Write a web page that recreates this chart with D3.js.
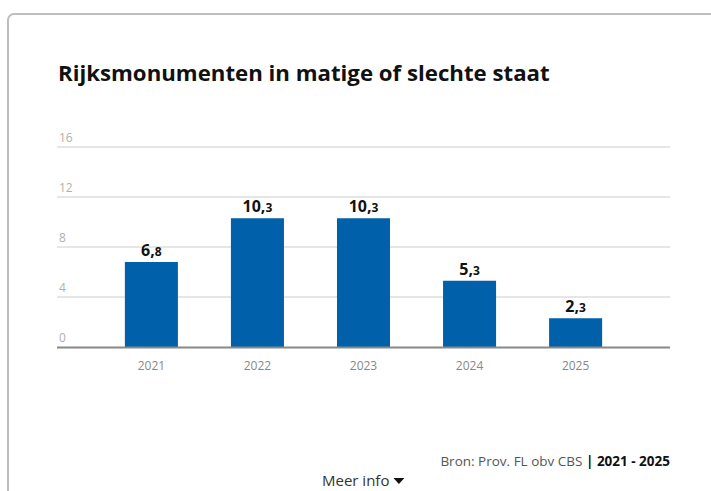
<!DOCTYPE html>
<html>
<head>
<meta charset="utf-8">
<script src="https://cdn.jsdelivr.net/npm/d3@7"></script>
<style>
  body { margin: 0; background: #fff; }
  svg { display: block; font-family: "Open Sans", "Noto Sans", sans-serif; }
</style>
</head>
<body>
<svg id="chart" width="711" height="491"></svg>
<script>
const years = ['2021', '2022', '2023', '2024', '2025']
const values = [6.8, 10.3, 10.3, 5.3, 2.3]
const yTicks = [0, 4, 8, 12, 16]

const titleText = 'Rijksmonumenten in matige of slechte staat'
const sourceText = 'Bron: Prov. FL obv CBS'
const periodText = '2021 - 2025'

const plot = { left: 57, right: 670, top: 147, bottom: 347 }

const svg = d3.select('#chart')

// card border
svg.append('rect')
    .attr('x', 8).attr('y', 14)
    .attr('width', 740).attr('height', 520)
    .attr('rx', 6)
    .attr('fill', '#fff')
    .attr('stroke', '#bdbdbd')
    .attr('stroke-width', 2)

// title, scaled to the width seen in the picture
const title = svg.append('text')
    .attr('x', 58).attr('y', 81)
    .attr('font-size', 20)
    .attr('font-weight', 700)
    .attr('fill', '#111')
    .text(titleText)
let tw = title.node().getComputedTextLength()
title.attr('font-size', 20 * 492 / tw)

const x = d3.scaleBand()
    .domain(years)
    .range([plot.left, plot.right])
    .paddingInner(0.5)
    .paddingOuter(0.64)

const y = d3.scaleLinear()
    .domain([0, 16])
    .range([plot.bottom, plot.top])

// grid
const grid = svg.append('g')
grid.selectAll('line')
    .data(yTicks.filter(d => d > 0))
    .enter().append('line')
    .attr('x1', plot.left).attr('x2', plot.right)
    .attr('y1', d => y(d)).attr('y2', d => y(d))
    .attr('stroke', '#e6e6e6')
    .attr('stroke-width', 2)

grid.selectAll('text')
    .data(yTicks)
    .enter().append('text')
    .attr('x', plot.left + 2)
    .attr('y', d => y(d) - 5)
    .attr('font-size', 12)
    .attr('fill', '#b0b0b0')
    .text(d => d)

// bars
svg.append('g').selectAll('rect')
    .data(values)
    .enter().append('rect')
    .attr('x', (d, i) => x(years[i]))
    .attr('width', x.bandwidth())
    .attr('y', d => y(d))
    .attr('height', d => y(0) - y(d))
    .attr('fill', '#0060aa')

// value labels, decimals smaller
const labels = svg.append('g').selectAll('text')
    .data(values)
    .enter().append('text')
    .attr('x', (d, i) => x(years[i]) + x.bandwidth() / 2)
    .attr('y', d => y(d) - 6)
    .attr('text-anchor', 'middle')
    .attr('font-weight', 700)
    .attr('fill', '#111')
labels.append('tspan')
    .attr('font-size', 16)
    .text(d => String(Math.floor(d)) + ',')
labels.append('tspan')
    .attr('font-size', 12)
    .text(d => String(d).split('.')[1])

// baseline
svg.append('line')
    .attr('x1', plot.left).attr('x2', plot.right)
    .attr('y1', y(0) + 0.5).attr('y2', y(0) + 0.5)
    .attr('stroke', '#888')
    .attr('stroke-width', 2)

// x axis labels
const xAxis = svg.append('g')
    .attr('transform', `translate(0,${y(0)})`)
    .call(d3.axisBottom(x).tickSize(0).tickPadding(14))
xAxis.select('.domain').remove()
xAxis.selectAll('text')
    .attr('font-size', 12)
    .attr('font-family', '"Open Sans", sans-serif')
    .attr('fill', '#888')

// footer
const src = svg.append('text')
    .attr('x', plot.right).attr('y', 466)
    .attr('text-anchor', 'end')
    .attr('font-size', 13.5)
src.append('tspan').attr('fill', '#555').text(sourceText + ' ')
src.append('tspan').attr('fill', '#111').attr('font-weight', 700).text('| ' + periodText)

const more = svg.append('text')
    .attr('x', 322).attr('y', 486)
    .attr('font-size', 15)
    .attr('fill', '#333')
    .text('Meer info')
const mw = more.node().getComputedTextLength()
svg.append('path')
    .attr('d', `M${322 + mw + 4},478 h11 l-5.5,6 z`)
    .attr('fill', '#111')
</script>
</body>
</html>
